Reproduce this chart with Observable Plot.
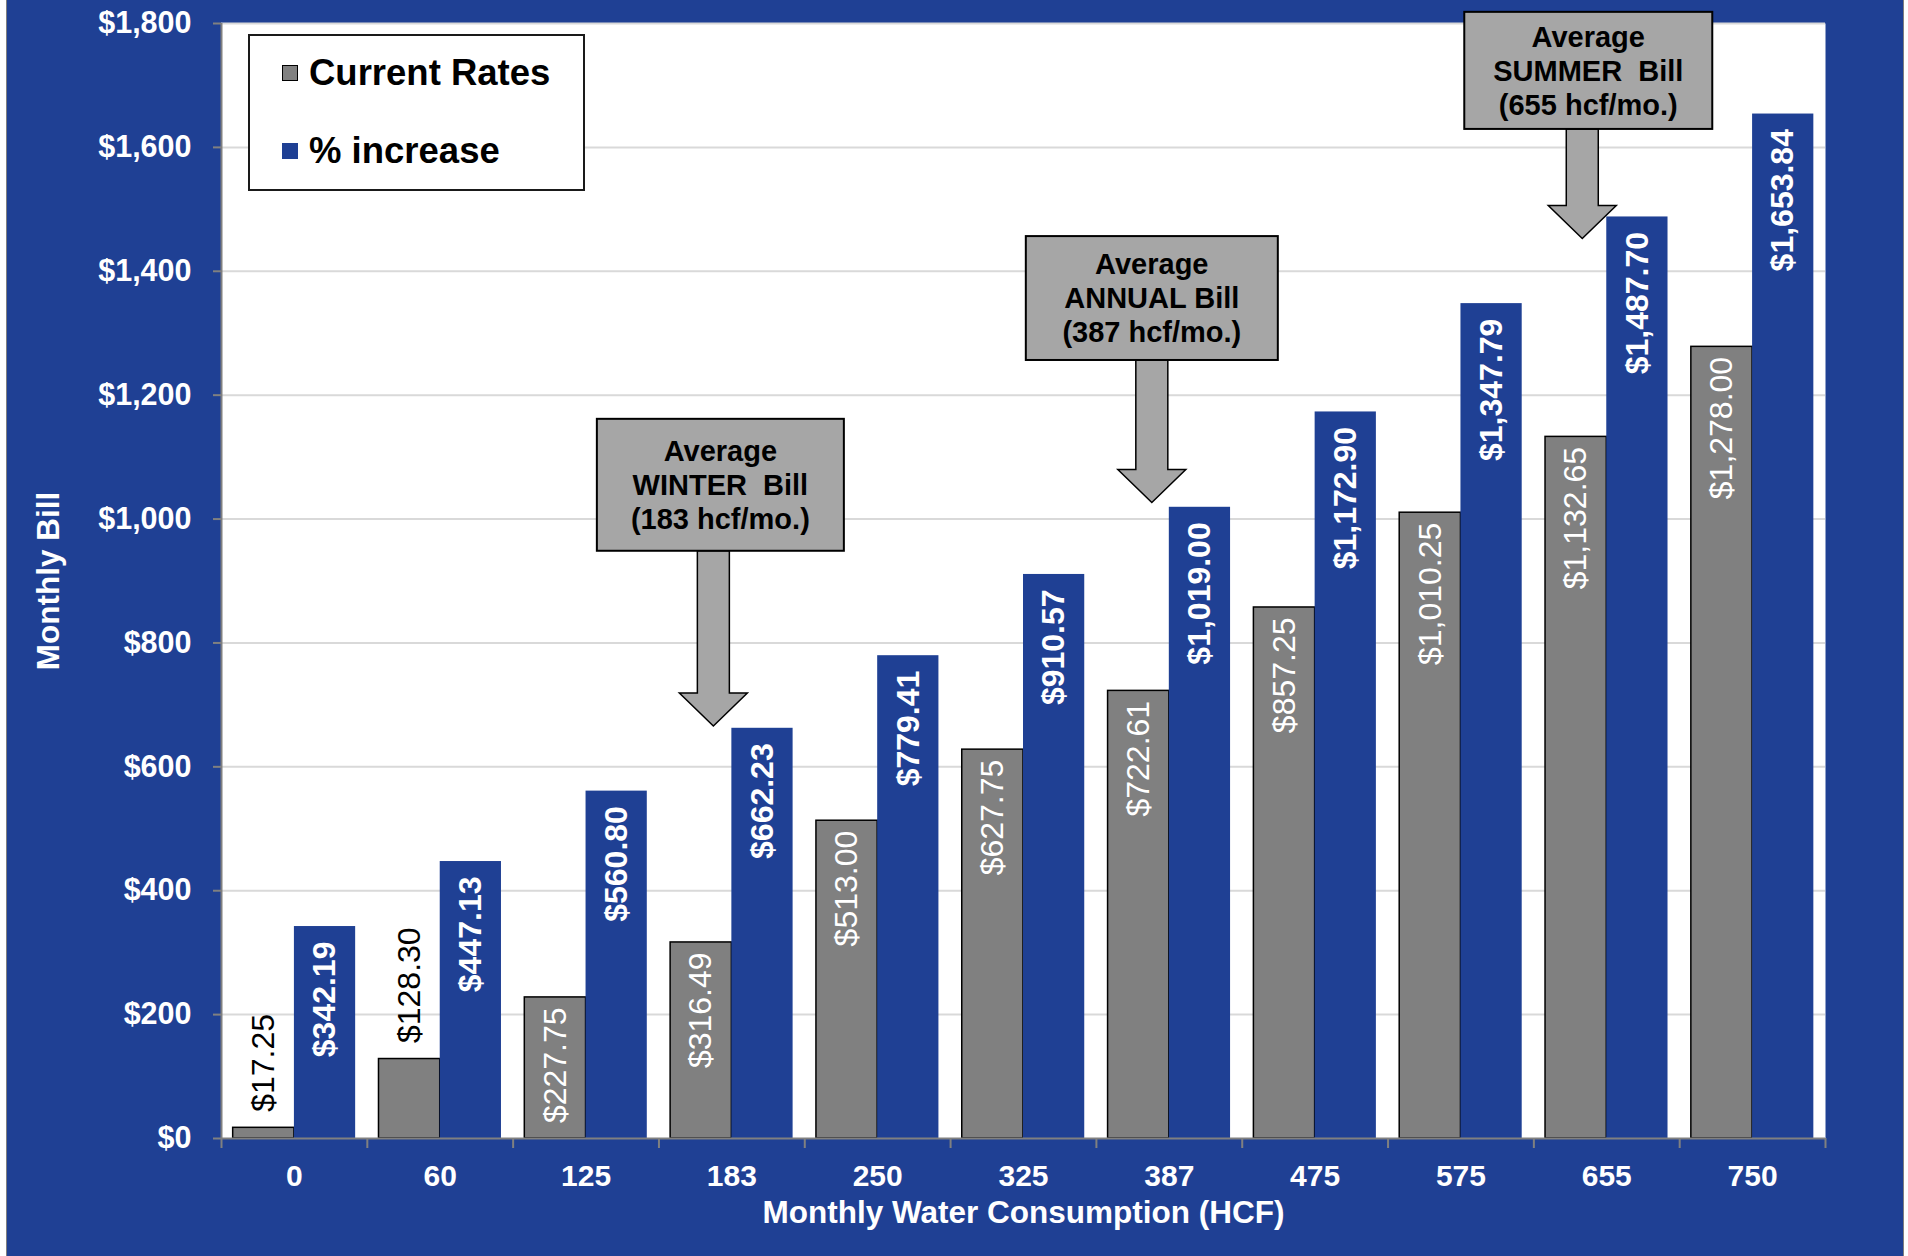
<!DOCTYPE html>
<html>
<head>
<meta charset="utf-8">
<script src="https://cdn.jsdelivr.net/npm/d3@7"></script>
<script src="https://cdn.jsdelivr.net/npm/@observablehq/plot@0.6"></script>
<style>
  html, body { margin: 0; padding: 0; background: #ffffff; }
  #wrap { position: absolute; left: 6px; top: 0; width: 1896px; height: 1256px; background: #1F4094;
          border-left: 1px solid #7f7f7f; border-right: 1px solid #7f7f7f; }
  #chart { position: absolute; left: 0; top: 0; }
  #legend { position: absolute; left: 248px; top: 34px; width: 333px; height: 153px; background: #ffffff;
            border: 2px solid #1a1a1a; font-family: "Liberation Sans", Arial, Helvetica, sans-serif;
            font-weight: bold; font-size: 36.5px; color: #000; }
  .item { position: absolute; left: 32px; height: 40px; line-height: 40px; display: flex; align-items: center; white-space: nowrap; }
  .sw { width: 16px; height: 16px; margin-right: 11px; box-sizing: border-box; }
</style>
</head>
<body>
<div id="wrap"><div id="chart"></div></div>
<div id="legend"></div>
<script>
// ---------- data ----------
const categories = ["0", "60", "125", "183", "250", "325", "387", "475", "575", "655", "750"];
const currentRates = [17.25, 128.30, 227.75, 316.49, 513.00, 627.75, 722.61, 857.25, 1010.25, 1132.65, 1278.00];
const proposedRates = [342.19, 447.13, 560.80, 662.23, 779.41, 910.57, 1019.00, 1172.90, 1347.79, 1487.70, 1653.84];
const seriesNames = ["Current Rates", "% increase"];
const yTicks = [0, 200, 400, 600, 800, 1000, 1200, 1400, 1600, 1800];
const xTitle = "Monthly Water Consumption (HCF)";
const yTitle = "Monthly Bill";
const annotationCategories = ["183", "387", "655"];
const annotationTips = [665, 1026, 1452];          // $ value the arrow points at
const annotationBoxTops = [1161, 1456, 1818];      // $ value of box top
const annotationBoxBottoms = [948, 1256, 1629];    // $ value of box bottom
const annotationLines = [
  ["Average", "WINTER  Bill", "(183 hcf/mo.)"],
  ["Average", "ANNUAL Bill", "(387 hcf/mo.)"],
  ["Average", "SUMMER  Bill", "(655 hcf/mo.)"]
];

// ---------- styles ----------
const BLUE = "#1F4094", GRAY = "#808080", BOXGRAY = "#a6a6a6";
const FONT = "'Liberation Sans', Arial, Helvetica, sans-serif";
const W = 1896, H = 1256, mL = 214, mR = 78, mT = 23, mB = 118;
const pIn = 0.16, pOut = 0.08;
const step = (W - mL - mR) / (categories.length - pIn + 2 * pOut);
const bw = step * (1 - pIn), half = bw / 2;
const insideMin = 200;
const annotationStyle = [
  {dx: -18, boxDx: 7, w: 247},
  {dx: -17, boxDx: 0, w: 252},
  {dx: -24, boxDx: 6, w: 248}
];

const rows = categories.map((c, i) => ({hcf: c, current: currentRates[i], proposed: proposedRates[i]}));
const fmt = v => "$" + d3.format(",.2f")(v);

const chart = Plot.plot({
  width: W, height: H,
  marginLeft: mL, marginRight: mR, marginTop: mT, marginBottom: mB,
  style: {background: BLUE, fontFamily: FONT, overflow: "visible"},
  x: {domain: categories, paddingInner: pIn, paddingOuter: pOut, round: false, label: null},
  y: {domain: [0, 1800], label: null},
  marks: [
    Plot.frame({fill: "white"}),
    Plot.ruleY(yTicks.slice(1), {stroke: "#d9d9d9", strokeWidth: 2}),
    Plot.barY(rows, {x: "hcf", y: "current", fill: GRAY, stroke: "#000", strokeWidth: 1.5, insetRight: half}),
    Plot.barY(rows, {x: "hcf", y: "proposed", fill: BLUE, insetLeft: half}),
    Plot.ruleY([0], {stroke: GRAY, strokeWidth: 2}),
    Plot.ruleX([categories[0]], {dx: -step / 2, stroke: GRAY, strokeWidth: 2}),
    Plot.axisY({ticks: yTicks, tickSize: 8, tickFormat: () => "", color: GRAY, strokeWidth: 2, label: null}),
    Plot.axisY({ticks: yTicks, tickSize: 0, tickPadding: 30, tickFormat: d => "$" + d3.format(",")(d),
                color: "white", fontSize: 30.5, fontWeight: "bold", label: null}),
    Plot.axisX({tickSize: 10, tickFormat: () => "", color: GRAY, strokeWidth: 2, dx: -step / 2, label: null}),
    Plot.axisX({ticks: [categories[categories.length - 1]], tickSize: 10, tickFormat: () => "", color: GRAY, strokeWidth: 2, dx: step / 2, label: null}),
    Plot.axisX({tickSize: 0, tickPadding: 26, color: "white", fontSize: 30, fontWeight: "bold", label: null}),
    // bar labels
    Plot.text(rows.filter(d => d.current >= insideMin), {x: "hcf", y: "current", text: d => fmt(d.current),
      rotate: -90, textAnchor: "end", dx: -half / 2, dy: 10, fill: "white", fontSize: 32}),
    Plot.text(rows.filter(d => d.current < insideMin), {x: "hcf", y: "current", text: d => fmt(d.current),
      rotate: -90, textAnchor: "start", dx: -half / 2, dy: -16, fill: "black", fontSize: 32}),
    Plot.text(rows, {x: "hcf", y: "proposed", text: d => fmt(d.proposed),
      rotate: -90, textAnchor: "end", dx: half / 2, dy: 15, fill: "white", fontWeight: "bold", fontSize: 32}),
    // axis titles
    Plot.text([xTitle], {frameAnchor: "bottom", lineAnchor: "middle", dy: 74, fill: "white", fontSize: 31.5, fontWeight: "bold"}),
    Plot.text([yTitle], {frameAnchor: "left", textAnchor: "middle", lineAnchor: "middle", dx: -173, rotate: -90, fill: "white", fontSize: 31.5, fontWeight: "bold"})
  ]
});
document.getElementById("chart").appendChild(chart);

// ---------- annotations (positioned with the plot's scales) ----------
const xs = chart.scale("x"), ys = chart.scale("y");
const bandW = xs.bandwidth != null ? xs.bandwidth : bw;
const g = d3.select(chart).append("g").attr("font-family", FONT);
annotationCategories.forEach((cat, k) => {
  const st = annotationStyle[k];
  const cx = xs.apply(cat) + bandW / 2 + st.dx;
  const yTip = ys.apply(annotationTips[k]);
  const yTop = ys.apply(annotationBoxTops[k]);
  const yBot = ys.apply(annotationBoxBottoms[k]);
  const sw = 16, hw = 34, hh = 33;
  const pts = [[cx - sw, yBot], [cx + sw, yBot], [cx + sw, yTip - hh], [cx + hw, yTip - hh], [cx, yTip], [cx - hw, yTip - hh], [cx - sw, yTip - hh]];
  g.append("polygon").attr("points", pts.map(p => p.join(",")).join(" "))
    .attr("fill", BOXGRAY).attr("stroke", "#000").attr("stroke-width", 1.5);
  const bx = cx + st.boxDx - st.w / 2;
  g.append("rect").attr("x", bx).attr("y", yTop).attr("width", st.w).attr("height", yBot - yTop)
    .attr("fill", BOXGRAY).attr("stroke", "#000").attr("stroke-width", 2);
  const midY = (yTop + yBot) / 2, lh = 34;
  annotationLines[k].forEach((t, j) => {
    g.append("text").attr("x", bx + st.w / 2).attr("y", midY + (j - 1) * lh).attr("dy", "0.35em")
      .attr("text-anchor", "middle").attr("font-size", 29).attr("font-weight", "bold")
      .attr("fill", "#000").style("white-space", "pre").text(t);
  });
});

// ---------- legend ----------
const legend = d3.select("#legend");
const swatchColors = [GRAY, BLUE];
seriesNames.forEach((name, i) => {
  const item = legend.append("div").attr("class", "item").style("top", (i === 0 ? 17 : 95) + "px");
  item.append("div").attr("class", "sw").style("background", swatchColors[i])
    .style("border", i === 0 ? "1.5px solid #000" : "none");
  item.append("span").text(name);
});
</script>
</body>
</html>
